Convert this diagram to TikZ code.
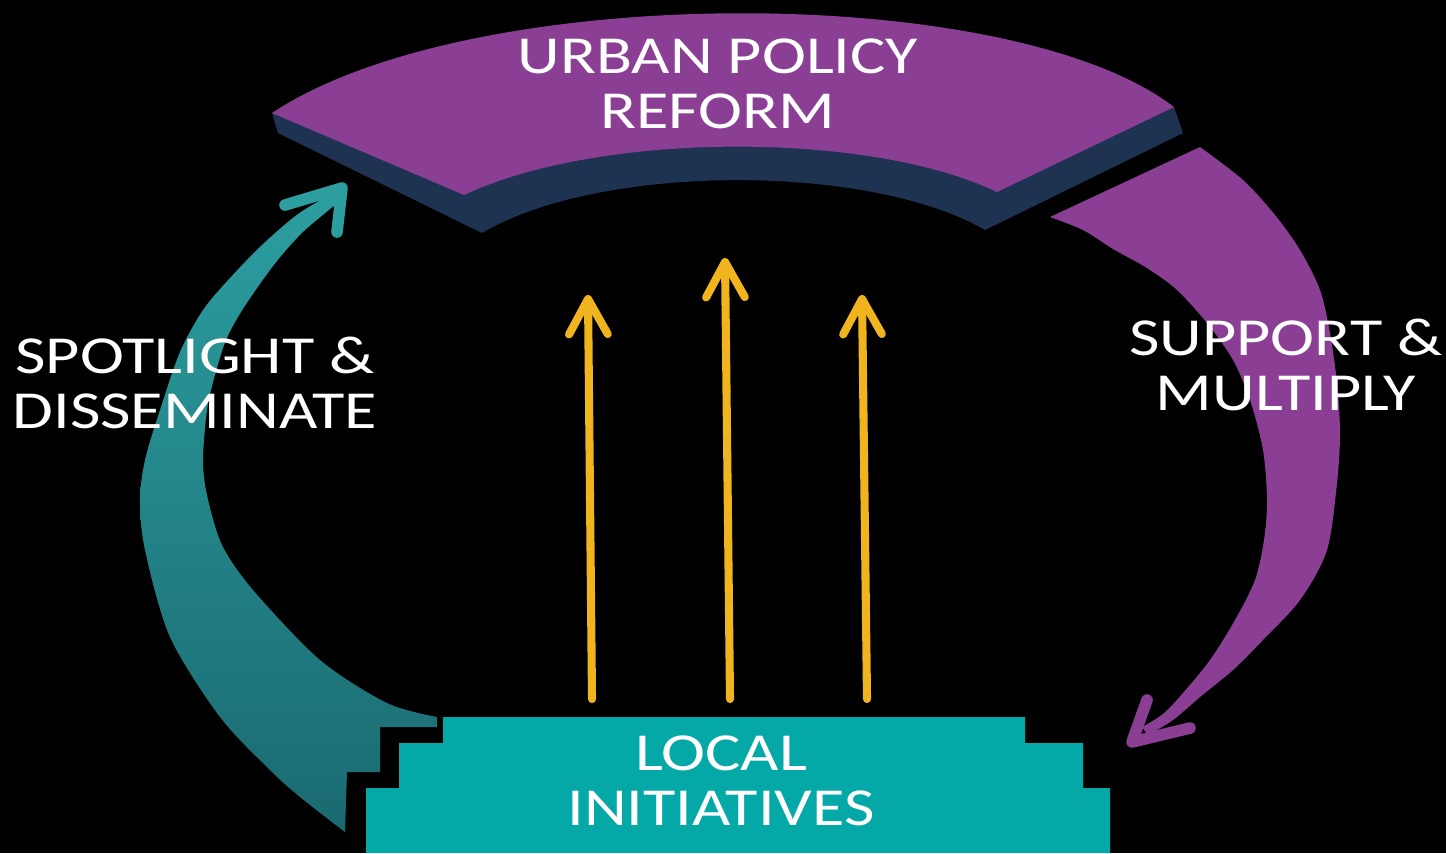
\documentclass[tikz,border=0pt]{standalone}
\usepackage{fontspec}
\setmainfont{Carlito}[FakeStretch=1.24]
\usetikzlibrary{arrows.meta}
\definecolor{policypurple}{RGB}{138,62,148}
\definecolor{policynavy}{RGB}{30,50,82}
\definecolor{localteal}{RGB}{4,169,167}
\definecolor{spottop}{RGB}{44,158,160}
\definecolor{spotbot}{RGB}{26,106,112}
\definecolor{gold}{RGB}{240,180,30}

\begin{document}
\begin{tikzpicture}[x=0.01cm, y=-0.01cm,
  lbl/.style={text=white, font=\fontsize{15.2}{15.65}\selectfont, align=center, inner sep=0pt},
  up/.style={gold, line width=2.3pt, line cap=round, -{Straight Barb[length=10pt,width=11pt,round]}},
  head/.style={line width=3.3pt, line cap=round, line join=round}]
\useasboundingbox (0,0) rectangle (1446,853);
\fill[black] (0,0) rectangle (1446,853);
\fill[policynavy] (272,113) -- (278,133) -- (482,233) .. controls (600,163) and (870,163) .. (985,230)
  -- (1183,133) -- (1174,107) -- cycle;
\fill[policypurple] (272,113) .. controls (470,-19) and (1010,-19) .. (1174,107)
  -- (997,192) .. controls (870,131) and (600,131) .. (464,195) -- cycle;
\fill[localteal] (443,717) -- (1025,717) -- (1025,743) -- (1083,743) -- (1083,788) -- (1110,788)
  -- (1110,853) -- (366,853) -- (366,788) -- (399,788) -- (399,743) -- (443,743) -- cycle;
\fill[top color=spottop, bottom color=spotbot]
  plot[smooth] coordinates {(345,832) (300,797) (270,770) (220,717) (170,637) (145,550) (140,500)
    (145,460) (160,410) (180,352) (203,310) (230,278) (262,245) (298,214) (335,192)}
  -- plot[smooth] coordinates {(340,201) (305,230) (281,256) (262,281) (241,312) (226,340) (215,375)
    (207,410) (203,460) (207,495) (222,545) (253,590) (320,660) (387,703) (437,717)}
  -- (437,727) -- (380,727) -- (380,772) -- (347,772) -- cycle;
\draw[head, spottop] (285,205) -- (342,188) -- (337,232);
\fill[policypurple] (1050,217)
  -- plot[smooth] coordinates {(1200,147) (1243,180) (1275,215) (1300,250) (1320,290) (1330,333)
    (1337,383) (1340,433) (1337,483) (1327,550) (1300,600) (1260,643) (1233,670) (1200,697)
    (1173,720) (1148,735)}
  -- plot[smooth] coordinates {(1142,727) (1163,714) (1183,693) (1210,660) (1235,620) (1255,580)
    (1264,540) (1267,500) (1263,450) (1250,400) (1233,360) (1207,323) (1177,290) (1147,268)
    (1113,249) (1083,230) (1050,217)} -- cycle;
\draw[head, policypurple] (1147,700) -- (1132,742) -- (1190,728);
\coordinate (b1) at (592,699);
\coordinate (b2) at (730,699);
\coordinate (b3) at (867,699);
\coordinate (t1) at (588,295);
\coordinate (t2) at (725,258);
\coordinate (t3) at (862,295);
\path[up] (b1) edge (t1)
          (b2) edge (t2)
          (b3) edge (t3);
\node[lbl] (policy) at (718,84) {URBAN POLICY\\REFORM};
\node[lbl] (local) at (721,781) {LOCAL\\INITIATIVES};
\node[lbl] (spot) at (195,383) {SPOTLIGHT \&\\DISSEMINATE};
\node[lbl] (support) at (1286,365) {SUPPORT \&\\MULTIPLY};
\end{tikzpicture}
\end{document}
